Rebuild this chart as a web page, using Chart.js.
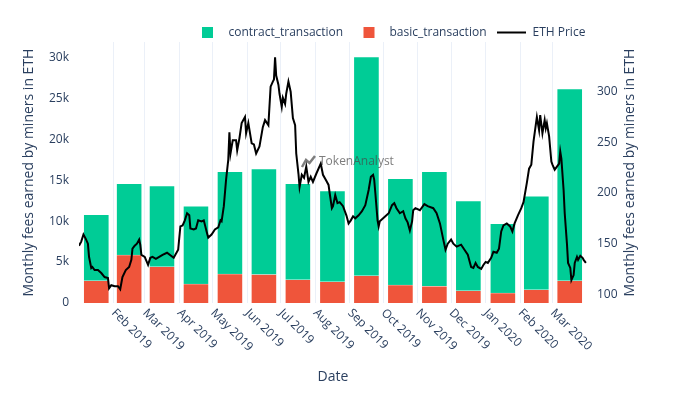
<!DOCTYPE html>
<html>
<head>
<meta charset="utf-8">
<script src="https://cdn.jsdelivr.net/npm/chart.js@4.4.1/dist/chart.umd.min.js"></script>
<style>
  html, body { margin: 0; padding: 0; background: #fff; }
  #wrap { width: 700px; height: 394px; }
</style>
</head>
<body>
<div id="wrap"><canvas id="chart" width="700" height="394"></canvas></div>
<script>
// monthly miner fees (ETH), one bar per month
const months = ["2019-01", "2019-02", "2019-03", "2019-04", "2019-05", "2019-06", "2019-07", "2019-08",
  "2019-09", "2019-10", "2019-11", "2019-12", "2020-01", "2020-02", "2020-03"];
const basicFees = [2720, 5860, 4430, 2320, 3540, 3460, 2840, 2600, 3330, 2200, 2030, 1500, 1220, 1620, 2720];
const contractFees = [8060, 8710, 9850, 9480, 12490, 12900, 11730, 11070, 26710, 12980, 14000, 10950, 8460, 11400, 23410];

// ETH price (USD), days counted from 2019-01-01
const priceDays = [
  0, 2, 4, 6, 8, 9, 11, 12, 14, 17,
  20, 23, 26, 27, 29, 32, 35, 37, 39, 42,
  45, 47, 48, 50, 52, 54, 55, 56, 59, 62,
  64, 66, 69, 72, 75, 79, 85, 89, 91, 93,
  95, 97, 99, 100, 103, 105, 107, 110, 112, 115,
  116, 119, 122, 125, 127, 128, 130, 132, 134, 135,
  136, 138, 141, 142, 144, 146, 149, 150, 152, 155,
  157, 159, 162, 165, 167, 170, 172, 174, 175, 176,
  177, 179, 180, 182, 183, 185, 186, 188, 190, 192,
  194, 195, 197, 198, 200, 202, 204, 206, 208, 210,
  213, 217, 219, 222, 224, 225, 227, 228, 230, 232,
  234, 237, 240, 242, 244, 246, 248, 251, 254, 257,
  260, 262, 264, 265, 266, 268, 269, 270, 273, 275,
  278, 281, 283, 285, 288, 291, 293, 295, 297, 299,
  300, 302, 306, 310, 313, 318, 321, 324, 327, 329,
  331, 334, 336, 339, 343, 346, 349, 352, 354, 356,
  358, 361, 363, 365, 367, 370, 372, 375, 377, 379,
  381, 384, 387, 389, 391, 394, 397, 399, 402, 404,
  406, 408, 410, 411, 413, 414, 416, 418, 419, 420,
  422, 424, 425, 427, 429, 431, 432, 433, 435, 436,
  438, 439, 441, 442, 444, 445, 447, 448, 450, 452,
  453, 455
];
const priceUsd = [
  148, 152, 159, 155, 150, 137, 126, 127, 124, 124,
  121, 117, 116, 106, 109, 108, 108, 105, 117, 124,
  127, 134, 145, 148, 150, 154, 149, 139, 137, 129,
  136, 137, 135, 137, 139, 141, 136, 144, 167, 168,
  173, 180, 178, 165, 164, 165, 173, 172, 173, 160,
  156, 159, 164, 166, 173, 172, 187, 213, 233, 260,
  239, 252, 252, 242, 254, 269, 275, 259, 269, 249,
  248, 239, 246, 265, 272, 267, 305, 310, 312, 334,
  316, 307, 298, 285, 294, 288, 298, 310, 300, 274,
  267, 239, 219, 206, 218, 215, 226, 211, 216, 211,
  219, 229, 218, 212, 208, 200, 185, 187, 198, 190,
  191, 187, 178, 170, 173, 177, 175, 178, 182, 188,
  203, 216, 218, 213, 200, 173, 167, 172, 175, 177,
  180, 188, 190, 185, 180, 182, 175, 171, 163, 172,
  183, 185, 183, 189, 187, 185, 180, 170, 154, 144,
  150, 154, 150, 147, 149, 144, 139, 127, 126, 131,
  127, 125, 129, 132, 131, 136, 142, 141, 145, 162,
  168, 170, 167, 162, 170, 178, 185, 191, 210, 224,
  228, 251, 267, 275, 262, 277, 259, 272, 264, 269,
  256, 231, 228, 223, 226, 229, 241, 234, 203, 180,
  150, 131, 126, 114, 119, 131, 137, 134, 138, 136,
  134, 131
];

const xTickLabels = ["Feb 2019", "Mar 2019", "Apr 2019", "May 2019", "Jun 2019", "Jul 2019", "Aug 2019",
  "Sep 2019", "Oct 2019", "Nov 2019", "Dec 2019", "Jan 2020", "Feb 2020", "Mar 2020"];
const feeTicks = [0, 5000, 10000, 15000, 20000, 25000, 30000];
const priceTicks = [100, 150, 200, 250, 300];

const GREEN = "#00CC96";
const RED = "#EF553B";
const TEXT = "#2a3f5f";
const GRID = "#EBF0F8";
const MON = ["Jan", "Feb", "Mar", "Apr", "May", "Jun", "Jul", "Aug", "Sep", "Oct", "Nov", "Dec"];

const START = Date.UTC(2019, 0, 1);
const dayOf = (y, m, d) => (Date.UTC(y, m, d) - START) / 86400000;

// bars sit in the middle of their month
const monthMid = months.map(s => {
  const [y, m] = s.split("-").map(Number);
  return (dayOf(y, m - 1, 1) + dayOf(y, m, 1)) / 2;
});
const tickDays = xTickLabels.map(s => {
  const [mon, y] = s.split(" ");
  return dayOf(+y, MON.indexOf(mon), 1);
});

Chart.defaults.font.family = "'Open Sans', sans-serif";
Chart.defaults.color = TEXT;

// extra drawing: slanted month labels, right title, legend, watermark
const extras = {
  id: "extras",
  afterDraw(chart) {
    const ctx = chart.ctx;
    const xs = chart.scales.x;
    const area = chart.chartArea;
    ctx.save();
    ctx.fillStyle = TEXT;
    ctx.font = "12px 'Open Sans'";
    ctx.textAlign = "left";
    ctx.textBaseline = "middle";
    xs.ticks.forEach((t, i) => {
      ctx.save();
      ctx.translate(xs.getPixelForValue(t.value), area.bottom + 8);
      ctx.rotate(Math.PI / 4);
      ctx.fillText(xTickLabels[i], 0, 0);
      ctx.restore();
    });

    // right axis title reads bottom to top like the left one
    ctx.save();
    ctx.font = "14px 'Open Sans'";
    ctx.textAlign = "center";
    ctx.translate(630.5, (area.top + area.bottom) / 2);
    ctx.rotate(-Math.PI / 2);
    ctx.fillText("Monthly fees earned by miners in ETH", 0, 0);
    ctx.restore();

    // legend
    const ly = 32.5;
    const ds = chart.data.datasets;
    ctx.font = "12px 'Open Sans'";
    ctx.fillStyle = GREEN;
    ctx.fillRect(202, ly - 5.5, 11, 11);
    ctx.fillStyle = RED;
    ctx.fillRect(363.5, ly - 5.5, 11, 11);
    ctx.strokeStyle = "#000";
    ctx.lineWidth = 2;
    ctx.beginPath();
    ctx.moveTo(497, ly);
    ctx.lineTo(526, ly);
    ctx.stroke();
    ctx.fillStyle = TEXT;
    ctx.fillText(ds[2].label, 228.5, ly);
    ctx.fillText(ds[1].label, 389.5, ly);
    ctx.fillText(ds[0].label, 532.5, ly);

    // watermark
    ctx.strokeStyle = "rgba(70,70,70,0.7)";
    ctx.lineWidth = 2.5;
    ctx.beginPath();
    ctx.moveTo(302, 167);
    ctx.lineTo(306, 160);
    ctx.lineTo(309.5, 163);
    ctx.lineTo(315, 156);
    ctx.stroke();
    ctx.fillStyle = "rgba(70,70,70,0.7)";
    ctx.font = "12px 'Open Sans'";
    ctx.fillText("TokenAnalyst", 319, 162);
    ctx.restore();
  }
};

new Chart(document.getElementById("chart"), {
  type: "bar",
  data: {
    datasets: [
      {
        type: "line",
        label: "ETH Price",
        data: priceDays.map((d, i) => ({ x: d, y: priceUsd[i] })),
        yAxisID: "y1",
        borderColor: "#000",
        borderWidth: 2,
        pointRadius: 0,
        tension: 0
      },
      {
        label: "basic_transaction",
        data: monthMid.map((d, i) => ({ x: d, y: basicFees[i] })),
        backgroundColor: RED,
        borderColor: "#fff",
        borderWidth: 0.5,
        barThickness: 25
      },
      {
        label: "contract_transaction",
        data: monthMid.map((d, i) => ({ x: d, y: contractFees[i] })),
        backgroundColor: GREEN,
        borderColor: "#fff",
        borderWidth: 0.5,
        barThickness: 25
      }
    ]
  },
  options: {
    responsive: false,
    animation: false,
    events: [],
    devicePixelRatio: 1,
    layout: { padding: { top: 42, left: 0, right: 0, bottom: 0 } },
    plugins: { legend: { display: false }, tooltip: { enabled: false } },
    scales: {
      x: {
        type: "linear",
        min: 0,
        max: 456,
        stacked: true,
        offset: false,
        grid: { color: GRID, drawTicks: false, offset: false },
        border: { display: false },
        ticks: { display: false },
        afterBuildTicks: s => { s.ticks = tickDays.map(v => ({ value: v })); },
        afterFit: s => { s.height = 91; },
        title: { display: true, text: "Date", font: { size: 14 }, padding: { top: 0, bottom: 9 } }
      },
      y: {
        position: "left",
        stacked: true,
        min: 0,
        max: 31880,
        grid: { display: false },
        border: { display: false },
        ticks: {
          padding: 2,
          font: { size: 12 },
          callback: v => (v === 0 ? "0" : v / 1000 + "k")
        },
        afterBuildTicks: s => { s.ticks = feeTicks.map(v => ({ value: v })); },
        afterFit: s => { s.width = 79; },
        title: {
          display: true,
          text: "Monthly fees earned by miners in ETH",
          font: { size: 14 },
          padding: { top: 21, bottom: 0 }
        }
      },
      y1: {
        position: "right",
        min: 91.4,
        max: 349.1,
        grid: { display: false },
        border: { display: false },
        ticks: { padding: 2, font: { size: 12 } },
        afterBuildTicks: s => { s.ticks = priceTicks.map(v => ({ value: v })); },
        afterFit: s => { s.width = 113; }
      }
    }
  },
  plugins: [extras]
});
</script>
</body>
</html>
